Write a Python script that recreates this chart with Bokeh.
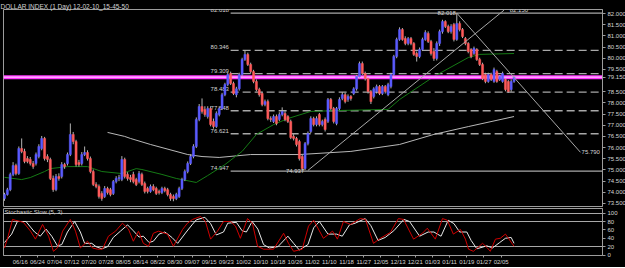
from bokeh.plotting import figure
from bokeh.layouts import column
from bokeh.models import (Range1d, FixedTicker, PrintfTickFormatter, ColumnDataSource,
                          Label, CustomJSTickFormatter)
from bokeh.embed import file_html
from bokeh.resources import INLINE
from bokeh.core.properties import value

# ---------------- data ----------------
opens = [73.72, 73.90, 74.12, 74.80, 75.20, 74.84, 75.96, 75.83, 75.51, 75.47,
         75.29, 75.29, 75.60, 75.96, 76.41, 75.60, 75.47, 74.62, 74.12, 74.71,
         74.71, 75.24, 75.29, 75.69, 76.59, 76.27, 75.33, 75.29, 75.69, 75.78,
         75.51, 74.93, 74.35, 74.26, 73.95, 73.81, 74.17, 74.12, 73.95, 74.48,
         74.62, 74.57, 75.47, 74.80, 74.66, 74.80, 74.57, 74.48, 74.80, 74.39,
         74.17, 74.04, 74.26, 74.17, 74.04, 73.99, 74.17, 74.12, 73.90, 73.81,
         73.72, 73.81, 74.17, 74.57, 74.93, 75.29, 75.60, 76.05, 77.26, 77.84,
         77.71, 77.39, 77.75, 77.17, 76.94, 77.48, 77.75, 78.37, 78.82, 79.32,
         78.87, 78.37, 78.63, 79.27, 79.94, 80.17, 79.72, 79.40, 78.96, 78.60,
         78.42, 77.93, 78.06, 77.30, 77.17, 77.39, 77.26, 77.48, 77.53, 77.39,
         77.17, 76.50, 76.41, 76.27, 75.60, 75.06, 76.18, 76.72, 77.30, 77.03,
         77.48, 77.03, 77.26, 77.17, 78.15, 77.75, 77.08, 77.75, 78.20, 78.37,
         78.15, 78.29, 78.42, 78.63, 79.18, 79.76, 79.32, 79.09, 78.51, 78.29,
         78.51, 78.73, 78.42, 78.73, 78.37, 78.73, 79.27, 80.08, 80.84, 81.28,
         80.88, 80.66, 80.88, 80.66, 80.21, 80.08, 80.39, 80.84, 81.11, 80.75,
         80.30, 79.99, 80.66, 81.19, 81.64, 81.42, 81.19, 81.51, 80.84, 81.55,
         81.28, 80.88, 80.66, 80.39, 80.21, 80.39, 79.94, 79.72, 79.27, 78.96,
         79.27, 78.96, 79.40, 79.05, 78.96, 79.05, 78.96, 78.60, 78.96]
closes = [73.90, 74.12, 74.80, 75.20, 74.84, 75.96, 75.83, 75.38, 75.38, 75.29,
          75.15, 75.69, 76.05, 76.41, 75.51, 75.47, 74.62, 74.12, 74.71, 74.62,
          75.24, 75.15, 75.69, 76.59, 76.27, 75.24, 75.24, 75.69, 75.78, 75.51,
          74.93, 74.35, 74.26, 73.81, 73.72, 74.17, 73.99, 73.90, 74.48, 74.62,
          74.66, 75.47, 74.71, 74.62, 74.57, 74.48, 74.35, 74.84, 74.35, 74.04,
          74.04, 74.26, 74.12, 73.95, 73.99, 74.17, 74.08, 73.90, 73.72, 73.72,
          73.90, 74.17, 74.57, 74.93, 75.29, 75.60, 76.05, 77.26, 77.84, 77.62,
          77.48, 77.75, 77.03, 76.94, 77.53, 77.75, 78.37, 78.82, 79.27, 78.87,
          78.42, 78.63, 79.27, 79.94, 80.17, 79.72, 79.40, 78.96, 78.60, 78.37,
          77.93, 78.06, 77.30, 77.26, 77.39, 77.08, 77.48, 77.62, 77.26, 77.17,
          76.45, 76.41, 76.14, 75.51, 75.06, 76.18, 76.63, 77.30, 77.03, 77.30,
          77.03, 77.17, 76.81, 78.15, 77.75, 77.17, 77.75, 78.15, 78.37, 78.06,
          78.29, 78.20, 78.63, 79.18, 79.76, 79.32, 79.09, 78.51, 78.06, 78.63,
          78.73, 78.42, 78.73, 78.51, 78.82, 79.27, 80.08, 80.84, 81.28, 80.84,
          80.66, 80.88, 80.66, 80.17, 80.08, 80.39, 80.84, 81.15, 80.75, 80.21,
          79.99, 80.66, 81.19, 81.64, 81.42, 81.19, 81.42, 80.84, 81.55, 81.28,
          80.97, 80.66, 80.30, 80.08, 80.44, 79.94, 79.72, 79.09, 78.96, 79.27,
          79.05, 79.49, 78.96, 79.18, 79.32, 78.60, 78.51, 78.96, 79.15]
highs = [73.98, 74.20, 74.88, 75.35, 75.28, 76.05, 76.41, 75.95, 75.62, 75.58,
         75.40, 75.78, 76.15, 76.52, 76.48, 75.70, 75.55, 74.75, 74.82, 74.85,
         75.35, 75.32, 75.78, 77.08, 76.70, 76.35, 75.45, 75.80, 76.05, 75.88,
         75.60, 75.02, 74.45, 74.35, 74.05, 74.28, 74.25, 74.20, 74.55, 74.72,
         74.78, 75.62, 75.55, 74.90, 74.78, 74.92, 74.65, 74.95, 74.88, 74.48,
         74.25, 74.35, 74.36, 74.25, 74.12, 74.25, 74.25, 74.20, 73.98, 73.90,
         73.98, 74.25, 74.65, 75.02, 75.38, 75.70, 76.15, 77.35, 77.95, 78.20,
         77.85, 77.85, 77.85, 77.30, 77.62, 77.85, 78.45, 78.90, 79.35, 79.40,
         78.95, 78.72, 79.35, 80.02, 80.35, 80.25, 79.80, 79.48, 79.05, 78.68,
         78.50, 78.15, 78.15, 77.40, 77.48, 77.48, 77.58, 77.80, 77.62, 77.45,
         77.25, 76.60, 76.48, 76.35, 75.68, 76.25, 76.72, 77.40, 77.38, 77.40,
         77.55, 77.25, 77.35, 78.22, 78.22, 77.82, 77.82, 78.25, 78.48, 78.45,
         78.38, 78.35, 78.70, 79.25, 79.85, 79.85, 79.40, 79.15, 78.58, 78.70,
         78.82, 78.80, 78.80, 78.80, 78.90, 79.35, 80.15, 80.92, 81.38, 81.35,
         80.98, 80.95, 80.95, 80.72, 80.30, 80.48, 80.92, 81.25, 81.20, 80.82,
         80.45, 80.75, 81.28, 81.72, 81.70, 81.50, 81.52, 81.58, 82.02, 81.65,
         81.35, 80.95, 80.72, 80.45, 80.52, 80.45, 80.02, 79.80, 79.35, 79.35,
         79.35, 79.58, 79.48, 79.25, 79.40, 79.12, 79.02, 79.05, 79.22]
lows = [73.62, 73.85, 74.05, 74.72, 74.76, 74.78, 75.75, 75.30, 75.30, 75.20,
        75.05, 75.20, 75.52, 75.88, 75.42, 75.35, 74.55, 74.02, 74.05, 74.52,
        74.62, 75.05, 75.20, 75.62, 76.15, 75.15, 75.15, 75.20, 75.62, 75.42,
        74.85, 74.28, 74.18, 73.72, 73.62, 73.75, 73.90, 73.82, 73.88, 74.40,
        74.50, 74.50, 74.62, 74.52, 74.45, 74.40, 74.28, 74.40, 74.28, 73.95,
        73.95, 73.98, 74.05, 73.88, 73.90, 73.92, 74.00, 73.82, 73.62, 73.60,
        73.65, 73.75, 74.10, 74.50, 74.85, 75.22, 75.52, 75.98, 77.18, 77.52,
        77.38, 77.30, 76.95, 76.85, 76.88, 77.40, 77.68, 78.30, 78.75, 78.80,
        78.35, 78.25, 78.55, 79.20, 79.88, 79.65, 79.32, 78.88, 78.52, 78.28,
        77.85, 77.85, 77.22, 77.15, 77.10, 77.00, 77.18, 77.40, 77.18, 77.10,
        76.38, 76.32, 76.05, 75.42, 74.94, 75.00, 76.10, 76.65, 76.95, 76.95,
        76.95, 76.95, 76.72, 77.10, 77.68, 77.08, 77.00, 77.68, 78.12, 77.98,
        78.05, 78.10, 78.35, 78.55, 79.10, 79.25, 79.00, 78.42, 77.95, 78.20,
        78.42, 78.35, 78.35, 78.42, 78.30, 78.65, 79.20, 80.00, 80.78, 80.78,
        80.58, 80.58, 80.58, 80.10, 79.85, 80.00, 80.32, 80.78, 80.68, 80.12,
        79.88, 79.90, 80.55, 81.10, 81.35, 81.12, 81.10, 80.75, 80.78, 81.20,
        80.90, 80.58, 80.22, 80.00, 80.15, 79.88, 79.65, 79.02, 78.88, 78.90,
        78.98, 78.90, 78.90, 78.98, 78.90, 78.52, 78.45, 78.50, 78.90]

# moving averages (bar index, value)
ma_fast_idx = [0, 6, 9, 14, 16, 22, 29, 34, 41, 46, 48, 55, 60, 67, 71, 77, 83, 88,
               94, 99, 107, 117, 134, 138, 150, 162, 166, 178]
ma_fast_val = [74.67, 74.57, 74.66, 74.93, 75.06, 75.15, 75.15, 74.93, 74.84, 75.06,
               75.02, 74.80, 74.62, 74.44, 74.75, 75.24, 75.83, 76.59, 77.03, 77.30,
               77.62, 77.66, 77.71, 78.15, 79.18, 80.03, 80.17, 80.21]
ma_slow_idx = [36, 42, 44, 51, 64, 69, 75, 86, 103, 121, 138, 150, 162, 178]
ma_slow_val = [76.68, 76.50, 76.41, 76.14, 75.69, 75.60, 75.56, 75.69, 75.69, 75.83,
               76.14, 76.59, 76.94, 77.39]

# Fibonacci levels
fib_levels = [82.018, 80.346, 79.309, 78.483, 77.648, 76.621, 74.947]
fib_texts = ["82.018", "80.346", "79.309", "78.483", "77.648", "76.621", "74.947"]
fib_dashed = [False, True, True, True, True, True, False]

# trend lines (bar index, price)
trend_x0 = [106.0, 158.0]
trend_y0 = [74.98, 82.018]
trend_x1 = [174.5, 201.2]
trend_y1 = [82.15, 75.79]
note_x = [154.5, 101.5, 176.5, 201.6]
note_y = [82.018, 74.937, 82.15, 75.790]
note_text = ["82.018", "74.937", "82.150", "75.790"]

last_price = 79.150
price_ticks = [73.5, 74.0, 74.5, 75.0, 75.5, 76.0, 76.5, 77.0, 77.5, 78.0, 78.5,
               79.5, 80.0, 80.5, 81.0, 81.5, 82.0]

# stochastic slow (5,3): %K (red) and %D (white), (bar index, value)
k_idx = [0, 1, 2.8, 3.8, 6.6, 9.1, 10.8, 13.3, 15.4, 17.1, 18.5, 20.3, 23, 24.8, 26.5,
         29, 30.7, 32.5, 34.2, 36.3, 38.8, 41.2, 43.3, 45, 46.8, 48.5, 50.3, 52, 53.8,
         56.9, 59, 62.2, 63.9, 65.7, 68.5, 70.2, 72, 74.4, 76.5, 79, 80.7, 82.4, 84.9,
         86.6, 88.4, 90.5, 94, 97.5, 99.2, 101, 104, 106.2, 108, 111.4, 114.6, 116.3,
         118.4, 120.9, 124.3, 126.1, 128.9, 131.3, 134.8, 137.6, 139.4, 142.9, 146,
         147.7, 150.5, 153, 154.7, 156.8, 159.3, 161, 162.1, 163.8, 167, 168.7, 169.7,
         171.5, 173.2, 175, 178]
k_val = [17, 38, 85, 83, 78, 57, 38, 73, 45, 9, 17, 57, 85, 57, 17,
         33, 17, 14, 14, 45, 57, 76, 62, 33, 57, 28, 21, 52, 57,
         50, 21, 61, 76, 85, 92, 80, 38, 57, 80, 80, 69, 40, 87,
         76, 21, 14, 14, 52, 28, 9, 14, 69, 83, 40, 57, 38,
         80, 73, 87, 85, 28, 40, 54, 87, 85, 38, 52,
         64, 38, 87, 83, 50, 61, 38, 14, 9, 28, 17, 9,
         38, 40, 50, 21]
d_idx = [0, 2.5, 4.5, 7.5, 10.5, 12.5, 14.5, 16.5, 18.5, 20, 22, 24.5, 26.5, 28, 30.5,
         32, 34, 36, 38, 40.5, 43, 45, 47, 48.5, 50.5, 52, 54, 56, 58.5, 60.5, 63.5,
         65.5, 67, 70, 72, 74, 76.5, 78, 81, 83, 84.5, 86.5, 88.5, 90.5, 92.5, 95.5,
         99, 101, 103, 106, 108, 110, 113, 116, 118, 120.5, 122.5, 126, 128, 130.5,
         133, 136, 139.5, 141.5, 145, 148, 150, 152.5, 155, 157, 159, 161.5, 163, 165,
         168.5, 170.5, 173, 175, 177, 178]
d_val = [30, 50, 80, 80, 55, 45, 62, 45, 22, 25, 55, 80, 55, 28, 28,
         20, 15, 20, 42, 57, 72, 58, 43, 45, 30, 33, 50, 55, 42, 28, 55,
         72, 84, 90, 75, 48, 55, 76, 78, 58, 55, 80, 62, 25, 17, 20,
         45, 28, 12, 25, 65, 80, 50, 50, 45, 72, 76, 87, 70, 35,
         42, 58, 85, 80, 45, 55, 55, 45, 83, 75, 55, 55, 35, 15,
         22, 17, 30, 40, 42, 28]
stoch_levels = [20, 80, 100]
stoch_ticks = [0, 20, 40, 60, 80, 100]

date_labels = ["06/08", "06/16", "06/24", "07/04", "07/12", "07/20", "07/28", "08/05",
               "08/14", "08/22", "08/30", "09/07", "09/15", "09/23", "10/02", "10/10",
               "10/18", "10/26", "11/02", "11/10", "11/18", "11/27", "12/05", "12/13",
               "12/21", "01/03", "01/11", "01/19", "01/27", "02/05"]
date_ticks = [6 * k - 0.5 for k in range(len(date_labels))]

# ---------------- styling ----------------
BG = "#000000"
FRAME = "#9c9c9c"
TXT = "#d4d4d4"
FONT = "Liberation Sans"
FS = "6px"
FS_T = "6.5px"
BULL = "#5a5aff"
BEAR = "#ff5a5a"
WICK = "#b4b4b4"

idx = list(range(len(closes)))
bull = [i for i in idx if closes[i] >= opens[i]]
bear = [i for i in idx if closes[i] < opens[i]]

x_range = Range1d(-0.35, 208.9)

p = figure(frame_width=599, frame_height=197, x_range=x_range,
           y_range=Range1d(73.365, 82.179), output_backend="svg",
           toolbar_location=None, y_axis_location="right",
           min_border_left=3, min_border_right=22, min_border_top=0,
           min_border_bottom=2, background_fill_color=BG, border_fill_color=BG,
           outline_line_color=FRAME, title="DOLLAR INDEX (1 Day) 12-02-10_15-45-50")
p.title.text_font = FONT
p.title.text_font_size = FS_T
p.title.text_font_style = "normal"
p.title.text_color = TXT
p.title.standoff = 0
p.title.offset = -3
p.xaxis.visible = False
p.grid.visible = False
ya = p.yaxis[0]
ya.ticker = FixedTicker(ticks=price_ticks + [last_price])
ya.formatter = PrintfTickFormatter(format="%.3f")
ya.major_label_text_font = FONT
ya.major_label_text_font_size = FS
ya.major_label_text_color = TXT
ya.axis_line_color = FRAME
ya.major_tick_line_color = FRAME
ya.major_tick_out = 3
ya.major_tick_in = 0
ya.minor_tick_line_color = None
ya.major_label_standoff = 2

# fib levels
for lvl, dashed in zip(fib_levels, fib_dashed):
    p.segment(x0=79.0, x1=208.9, y0=lvl, y1=lvl, line_color="#a8a8a8",
              line_width=1.3, line_dash="8 4" if dashed else "solid")
p.text(x=[78.4] * len(fib_levels), y=fib_levels, text=fib_texts, text_align="right",
       text_baseline="bottom", y_offset=-1, text_color=TXT,
       text_font=value(FONT), text_font_size=FS)

# moving averages
p.line(ma_slow_idx, ma_slow_val, line_color="#b8b8b8", line_width=1)
p.line(ma_fast_idx, ma_fast_val, line_color="#157a15", line_width=1)

# current price line
p.segment(x0=-0.35, x1=208.9, y0=last_price, y1=last_price, line_color="#ff30ff", line_width=4)
p.segment(x0=-0.35, x1=208.9, y0=last_price, y1=last_price, line_color="#ffc8ff", line_width=1.2)

# candles
p.segment(x0=idx, x1=idx, y0=lows, y1=highs, line_color=WICK, line_width=1)
src_bull = ColumnDataSource(dict(x=bull, top=[closes[i] for i in bull], bottom=[opens[i] for i in bull]))
src_bear = ColumnDataSource(dict(x=bear, top=[opens[i] for i in bear], bottom=[closes[i] for i in bear]))
p.vbar(x="x", top="top", bottom="bottom", width=0.72, source=src_bull,
       fill_color=BULL, line_color=BULL, line_width=0.5)
p.vbar(x="x", top="top", bottom="bottom", width=0.72, source=src_bear,
       fill_color=BEAR, line_color=BEAR, line_width=0.5)

# trend lines and notes
p.segment(x0=trend_x0, y0=trend_y0, x1=trend_x1, y1=trend_y1, line_color="#a8a8a8", line_width=1)
p.text(x=note_x, y=note_y, text=note_text, text_align=["center", "center", "left", "left"],
       text_baseline="middle", text_color=TXT, text_font=value(FONT), text_font_size=FS)

# ---------------- stochastic panel ----------------
q = figure(frame_width=599, frame_height=47, x_range=x_range, y_range=Range1d(-1, 111),
           output_backend="svg", toolbar_location=None, y_axis_location="right",
           min_border_left=3, min_border_right=22, min_border_top=0, min_border_bottom=0,
           background_fill_color=BG, border_fill_color=BG, outline_line_color=FRAME)
q.grid.visible = False
q.hspan(y=stoch_levels, line_color="#a8a8a8", line_width=1)
q.line(d_idx, d_val, line_color="#e8e8e8", line_width=1)
q.line(k_idx, k_val, line_color="#d00000", line_width=1)
q.add_layout(Label(x=0, y=111, text="Stochastic Slow (5, 3)", text_baseline="top",
                   y_offset=0, text_font=FONT, text_font_size=FS, text_color=TXT))
qy = q.yaxis[0]
qy.ticker = FixedTicker(ticks=stoch_ticks)
qy.major_label_text_font = FONT
qy.major_label_text_font_size = FS
qy.major_label_text_color = TXT
qy.axis_line_color = FRAME
qy.major_tick_line_color = FRAME
qy.major_tick_out = 3
qy.major_tick_in = 0
qy.minor_tick_line_color = None
qy.major_label_standoff = 2
qx = q.xaxis[0]
qx.ticker = FixedTicker(ticks=date_ticks)
qx.formatter = CustomJSTickFormatter(args=dict(labels=date_labels),
                                     code="return labels[Math.round((tick + 0.5) / 6)];")
qx.major_label_text_font = FONT
qx.major_label_text_font_size = FS
qx.major_label_text_color = TXT
qx.axis_line_color = FRAME
qx.axis_line_dash = "1 2"
qx.major_tick_line_color = FRAME
qx.major_tick_out = 2
qx.major_tick_in = 0
qx.minor_tick_line_color = None
qx.major_label_standoff = 1

layout = column(p, q, spacing=0, styles={"background-color": BG})
open("out.html", "w").write(file_html(layout, INLINE))
